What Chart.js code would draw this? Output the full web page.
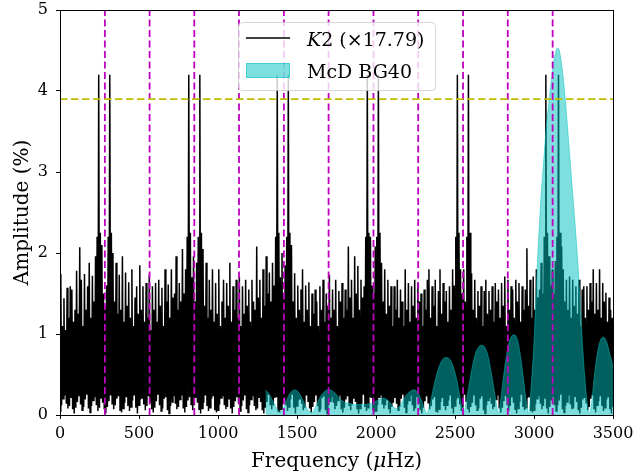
<!DOCTYPE html>
<html>
<head>
<meta charset="utf-8">
<script src="https://cdn.jsdelivr.net/npm/chart.js@4.4.1/dist/chart.umd.min.js"></script>
<style>
  html, body { margin: 0; padding: 0; background: #ffffff; }
  #wrap { width: 637px; height: 475px; }
</style>
</head>
<body>
<div id="wrap"><canvas id="chart" width="637" height="475"></canvas></div>
<script>
// K2 amplitude spectrum (%), scaled by 17.79: minima on a 10 uHz grid starting at 0,
// maxima on the same grid offset by 5 uHz.
const k2Troughs = [
  0.05,0.12,0.20,0.24,0.14,0.08,0.11,0.22,0.07,0.02,
  0.09,0.16,0.23,0.13,0.06,0.10,0.19,0.25,0.08,0.03,
  0.11,0.18,0.22,0.12,0.05,0.09,0.21,0.15,0.07,0.02,
  0.10,0.17,0.24,0.14,0.07,0.12,0.20,0.23,0.06,0.03,
  0.08,0.15,0.22,0.11,0.05,0.10,0.18,0.24,0.09,0.02,
  0.12,0.19,0.21,0.13,0.06,0.11,0.23,0.16,0.07,0.03,
  0.09,0.17,0.25,0.12,0.05,0.08,0.20,0.22,0.06,0.02,
  0.11,0.16,0.23,0.14,0.07,0.10,0.19,0.24,0.08,0.03,
  0.10,0.18,0.22,0.13,0.06,0.12,0.21,0.15,0.07,0.02,
  0.08,0.15,0.24,0.11,0.05,0.09,0.20,0.23,0.06,0.03,
  0.06,0.13,0.21,0.23,0.12,0.07,0.10,0.20,0.08,0.02,
  0.10,0.17,0.22,0.14,0.05,0.11,0.18,0.24,0.07,0.03,
  0.12,0.19,0.23,0.11,0.06,0.08,0.22,0.16,0.06,0.02,
  0.09,0.16,0.25,0.13,0.07,0.12,0.21,0.22,0.05,0.03,
  0.07,0.14,0.21,0.12,0.05,0.10,0.19,0.25,0.09,0.02,
  0.11,0.18,0.20,0.14,0.06,0.09,0.24,0.17,0.08,0.03,
  0.10,0.16,0.24,0.11,0.05,0.07,0.21,0.23,0.06,0.02,
  0.12,0.17,0.22,0.15,0.07,0.11,0.18,0.24,0.07,0.03,
  0.09,0.19,0.23,0.12,0.06,0.13,0.20,0.16,0.08,0.02,
  0.08,0.14,0.25,0.10,0.05,0.09,0.22,0.21,0.06,0.03,
  0.05,0.12,0.22,0.24,0.13,0.08,0.12,0.19,0.07,0.02,
  0.10,0.15,0.21,0.14,0.06,0.10,0.20,0.25,0.09,0.03,
  0.13,0.18,0.24,0.12,0.05,0.08,0.23,0.14,0.06,0.02,
  0.09,0.17,0.23,0.15,0.07,0.11,0.19,0.22,0.05,0.03,
  0.07,0.16,0.21,0.11,0.06,0.12,0.18,0.24,0.08,0.02,
  0.11,0.19,0.22,0.13,0.05,0.09,0.25,0.17,0.07,0.03,
  0.10,0.15,0.24,0.12,0.06,0.08,0.20,0.23,0.06,0.02,
  0.12,0.18,0.21,0.14,0.07,0.10,0.19,0.24,0.08,0.03,
  0.09,0.17,0.23,0.13,0.05,0.11,0.22,0.15,0.07,0.02,
  0.08,0.16,0.25,0.10,0.06,0.09,0.21,0.22,0.05,0.03,
  0.06,0.13,0.20,0.23,0.14,0.07,0.11,0.21,0.08,0.02,
  0.10,0.18,0.22,0.12,0.05,0.12,0.18,0.25,0.07,0.03,
  0.11,0.16,0.24,0.13,0.07,0.08,0.23,0.16,0.06,0.02,
  0.09,0.19,0.21,0.15,0.06,0.10,0.20,0.24,0.08,0.03,
  0.12,0.17,0.23,0.11,0.05,0.09,0.19,0.22,0.07,0.02,
  0.10
];
const k2Peaks = [
  1.74,1.10,1.44,1.05,1.57,1.20,1.59,1.55,1.15,1.30,
  1.78,1.25,2.07,1.67,1.10,1.74,1.30,1.59,1.88,1.20,
  1.72,1.40,1.96,2.20,4.20,2.25,2.10,1.50,1.35,1.60,
  2.20,4.20,2.25,2.00,1.40,1.88,1.25,1.73,1.30,1.96,
  1.15,1.76,1.35,1.64,1.20,1.80,1.10,1.45,1.59,1.25,
  1.85,1.30,1.59,1.15,1.63,1.20,1.73,1.05,1.59,1.30,
  1.63,1.15,1.67,1.35,1.57,1.10,1.80,1.40,1.61,1.20,
  1.80,1.45,1.50,1.96,1.30,1.63,1.40,2.05,1.50,1.80,
  2.20,4.20,2.25,1.70,1.96,1.40,1.88,2.20,4.20,2.25,
  2.05,1.35,1.88,1.20,1.67,1.30,1.80,1.15,1.63,1.25,
  1.80,1.10,1.40,1.67,1.20,1.63,1.35,1.88,1.15,1.59,
  1.30,1.67,1.20,1.71,1.10,1.59,1.25,1.67,1.35,1.55,
  1.15,1.67,1.40,1.30,2.08,1.45,1.67,1.20,1.80,1.35,
  1.96,1.50,1.76,1.40,1.88,1.60,2.20,4.20,2.25,1.70,
  2.00,1.45,1.85,2.20,4.20,2.25,2.10,1.40,1.75,1.20,
  1.60,1.30,1.55,1.80,1.15,1.60,1.30,1.64,1.10,1.50,
  1.25,1.55,1.40,1.10,1.59,1.30,1.67,1.15,1.50,1.35,
  1.73,1.20,1.55,1.30,1.67,1.10,1.53,1.40,1.63,1.20,
  1.55,1.30,2.08,1.45,1.67,1.20,1.96,1.50,1.84,1.30,
  1.67,1.45,1.59,2.20,4.20,2.25,2.20,1.60,1.50,2.08,
  2.20,4.20,2.25,1.88,1.40,1.80,1.25,1.67,1.35,1.59,
  1.10,1.59,1.30,1.67,1.20,1.55,1.40,1.10,1.80,1.30,
  1.63,1.15,1.59,1.35,1.67,1.20,1.63,1.40,1.50,1.10,
  1.55,1.30,1.67,1.80,1.20,1.59,1.35,1.67,1.10,1.53,
  1.80,1.25,1.63,1.40,1.53,1.15,1.59,1.30,1.80,1.60,
  2.20,4.20,2.25,1.80,1.50,1.80,1.40,2.20,4.20,2.25,
  1.75,1.30,1.67,1.20,1.53,1.35,1.59,1.10,1.53,1.67,
  1.25,1.53,1.30,1.59,1.15,1.63,1.40,1.55,1.20,1.63,
  1.35,1.71,1.10,1.67,1.30,1.59,1.55,1.20,1.67,1.40,
  1.63,1.15,1.59,1.30,1.55,2.06,1.35,1.67,1.20,1.71,
  1.30,1.80,1.45,1.55,1.88,1.50,2.20,4.20,2.25,1.96,
  1.60,1.80,1.50,1.90,2.20,4.20,2.25,2.08,1.80,1.40,
  1.67,1.30,1.71,1.20,1.67,1.35,1.59,1.25,1.67,1.10,
  1.55,1.59,1.20,1.59,1.30,1.63,1.40,1.80,1.25,1.63,
  1.30,1.80,1.20,1.63,1.40,1.51,1.15,1.45,1.30,1.20
];
const k2Step = 10;

// McDonald BG40 amplitude spectrum (%)
const mcdFreq = [
  1300,1320,1340,1360,1380,1395,1410,1430,1450,1470,1485,1500,1520,1540,1560,1580,1595,
  1610,1630,1650,1670,1690,1710,1730,1750,1770,1790,1810,1840,1870,1900,1930,1960,1990,
  2020,2045,2070,2090,2110,2130,2150,2170,2190,2210,2235,2255,2275,2295,2310,2322,
  2340,2360,2380,2400,2420,2445,2470,2490,2510,2530,2545,2555,
  2570,2590,2610,2630,2650,2670,2690,2710,2730,2750,2765,2776,
  2790,2810,2830,2850,2875,2895,2915,2935,2952,2966,
  2980,3000,3020,3040,3060,3080,3100,3120,3140,3150,3160,3180,3200,3220,3240,3260,3280,3300,3320,3340,3350,
  3365,3380,3400,3420,3440,3460,3480,3500
];
const mcdAmp = [
  0.31,0.27,0.20,0.12,0.06,0.04,0.07,0.16,0.25,0.30,0.31,0.30,0.25,0.17,0.09,0.04,0.03,
  0.07,0.15,0.23,0.28,0.31,0.31,0.29,0.25,0.20,0.17,0.15,0.14,0.13,0.13,0.13,0.14,0.16,
  0.19,0.21,0.19,0.15,0.10,0.08,0.11,0.18,0.24,0.28,0.31,0.30,0.24,0.14,0.06,0.02,
  0.12,0.30,0.47,0.60,0.68,0.71,0.68,0.59,0.44,0.24,0.08,0.02,
  0.15,0.38,0.60,0.76,0.84,0.86,0.83,0.72,0.52,0.28,0.10,0.02,
  0.20,0.52,0.78,0.94,0.99,0.93,0.72,0.42,0.15,0.02,
  0.30,0.90,1.80,2.55,3.10,3.60,3.95,4.30,4.50,4.53,4.50,4.25,3.85,3.35,2.85,2.35,1.80,1.10,0.50,0.10,0.02,
  0.15,0.45,0.75,0.92,0.96,0.90,0.75,0.60
];

// Harmonic spacing markers (uHz) and detection threshold (%)
const combFreqs = [284, 567, 850, 1133, 1417, 1700, 1984, 2267, 2551, 2834, 3118];
const threshold = 3.9;

const xTicks = [0, 500, 1000, 1500, 2000, 2500, 3000, 3500];
const yTicks = [0, 1, 2, 3, 4, 5];

const SERIF = '"DejaVu Serif", "Liberation Serif", serif';
const CYAN = 'rgba(0,191,191,0.5)';

const k2Points = [];
for (let i = 0; i < k2Troughs.length; i++) {
  k2Points.push({ x: i * k2Step, y: k2Troughs[i] });
  if (i < k2Peaks.length) k2Points.push({ x: i * k2Step + k2Step / 2, y: k2Peaks[i] });
}
const mcdPoints = mcdFreq.map((f, i) => ({ x: f, y: mcdAmp[i] }));

// dashed reference lines above the spectra
const refLines = {
  id: 'refLines',
  afterDatasetsDraw(chart) {
    const { ctx, chartArea: a, scales: { x, y } } = chart;
    ctx.save();
    ctx.beginPath();
    ctx.rect(a.left, a.top, a.right - a.left, a.bottom - a.top);
    ctx.clip();
    ctx.lineWidth = 1.8;
    ctx.setLineDash([7, 3.5]);
    ctx.strokeStyle = 'rgb(191,0,191)';
    combFreqs.forEach(f => {
      const px = x.getPixelForValue(f);
      ctx.beginPath();
      ctx.moveTo(px, a.bottom);
      ctx.lineTo(px, a.top);
      ctx.stroke();
    });
    ctx.strokeStyle = 'rgb(191,191,0)';
    ctx.setLineDash([7.5, 3.5]);
    const py = y.getPixelForValue(threshold);
    ctx.beginPath();
    ctx.moveTo(a.left, py);
    ctx.lineTo(a.right, py);
    ctx.stroke();
    ctx.restore();
  }
};

function drawRich(ctx, parts, x, y) {
  let cx = x;
  parts.forEach(([txt, font]) => {
    ctx.font = font;
    ctx.fillText(txt, cx, y);
    cx += ctx.measureText(txt).width;
  });
  return cx - x;
}
function richWidth(ctx, parts) {
  let w = 0;
  parts.forEach(([txt, font]) => { ctx.font = font; w += ctx.measureText(txt).width; });
  return w;
}

// axes frame, legend and axis titles
const decorations = {
  id: 'decorations',
  afterDraw(chart) {
    const { ctx, chartArea: a } = chart;
    ctx.save();
    ctx.strokeStyle = '#000';
    ctx.lineWidth = 1;
    ctx.strokeRect(Math.round(a.left) + 0.5, Math.round(a.top) + 0.5,
      Math.round(a.right - a.left), Math.round(a.bottom - a.top));

    // legend
    ctx.beginPath();
    ctx.roundRect(238.5, 22.5, 197, 68, 4);
    ctx.fillStyle = 'rgba(255,255,255,0.8)';
    ctx.fill();
    ctx.strokeStyle = 'rgba(204,204,204,0.8)';
    ctx.lineWidth = 1;
    ctx.stroke();

    ctx.beginPath();
    ctx.moveTo(246, 38);
    ctx.lineTo(290, 38);
    ctx.strokeStyle = '#000';
    ctx.lineWidth = 1.5;
    ctx.stroke();

    ctx.fillStyle = CYAN;
    ctx.fillRect(246, 63, 44, 15);
    ctx.strokeStyle = CYAN;
    ctx.lineWidth = 1;
    ctx.strokeRect(246.5, 63.5, 43, 14);

    ctx.fillStyle = '#000';
    ctx.textBaseline = 'alphabetic';
    ctx.textAlign = 'left';
    const lf = '19px ' + SERIF;
    const lfi = 'italic 19px ' + SERIF;
    drawRich(ctx, [['K', lfi], ['2 (\u00d717.79)', lf]], 307, 46);
    drawRich(ctx, [['McD BG40', lf]], 307, 78);

    // axis titles
    const tf = '20px ' + SERIF;
    const tfi = 'italic 20px ' + SERIF;
    const xParts = [['Frequency (', tf], ['\u03bc', tfi], ['Hz)', tf]];
    const xw = richWidth(ctx, xParts);
    drawRich(ctx, xParts, (a.left + a.right) / 2 - xw / 2, 467);

    const yParts = [['Amplitude (%)', tf]];
    const yw = richWidth(ctx, yParts);
    ctx.translate(28, (a.top + a.bottom) / 2);
    ctx.rotate(-Math.PI / 2);
    drawRich(ctx, yParts, -yw / 2, 0);
    ctx.restore();
  }
};

new Chart(document.getElementById('chart'), {
  type: 'line',
  data: {
    datasets: [
      {
        label: 'K2 (\u00d717.79)',
        data: k2Points,
        borderColor: '#000000',
        borderWidth: 1.5,
        pointRadius: 0,
        fill: false,
        tension: 0,
        order: 1
      },
      {
        label: 'McD BG40',
        data: mcdPoints,
        borderColor: CYAN,
        backgroundColor: CYAN,
        borderWidth: 1,
        pointRadius: 0,
        fill: 'origin',
        cubicInterpolationMode: 'monotone',
        order: 0
      }
    ]
  },
  options: {
    responsive: false,
    animation: false,
    events: [],
    layout: { padding: { top: 10, right: 24, left: 0, bottom: 0 } },
    plugins: { legend: { display: false }, tooltip: { enabled: false } },
    scales: {
      x: {
        type: 'linear',
        min: 0,
        max: 3500,
        afterFit(s) { s.height = 60; s.paddingLeft = 0; s.paddingRight = 0; },
        afterBuildTicks(s) { s.ticks = xTicks.map(v => ({ value: v })); },
        ticks: {
          font: { family: SERIF, size: 16 },
          color: '#000',
          padding: 5,
          maxRotation: 0,
          autoSkip: false,
          callback: v => String(v)
        },
        grid: { display: true, drawOnChartArea: false, drawTicks: true, tickLength: 4, color: '#000', lineWidth: 1 },
        border: { display: true, color: '#000', width: 1 }
      },
      y: {
        type: 'linear',
        min: 0,
        max: 5,
        afterFit(s) { s.width = 60; s.paddingTop = 0; s.paddingBottom = 0; },
        afterBuildTicks(s) { s.ticks = yTicks.map(v => ({ value: v })); },
        ticks: {
          font: { family: SERIF, size: 16 },
          color: '#000',
          padding: 8,
          autoSkip: false,
          callback: v => String(v)
        },
        grid: { display: true, drawOnChartArea: false, drawTicks: true, tickLength: 4, color: '#000', lineWidth: 1 },
        border: { display: true, color: '#000', width: 1 }
      }
    }
  },
  plugins: [refLines, decorations]
});
</script>
</body>
</html>
